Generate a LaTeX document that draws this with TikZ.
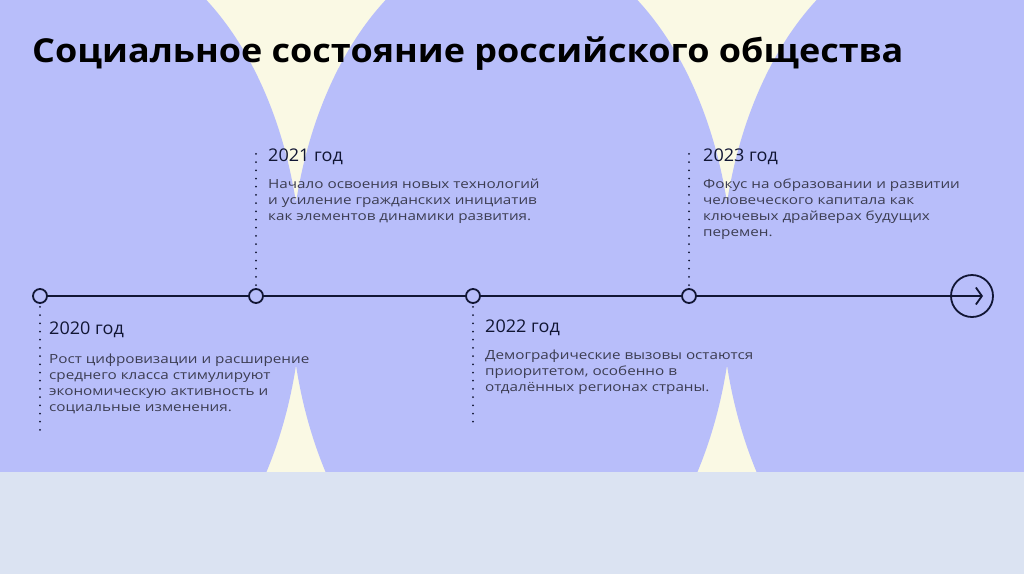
\documentclass[tikz,border=0pt]{standalone}
\usepackage{fontspec}
\setmainfont{Open Sans}
\newfontfamily\bodyfont[FakeStretch=1.21]{Open Sans}
\newfontfamily\yearfont[FakeStretch=1.03]{Open Sans}
\newfontfamily\headfont[FakeStretch=1.09]{Open Sans}
\usepackage{xcolor}
\usetikzlibrary{arrows.meta,positioning,calc}

\definecolor{lavanda}{HTML}{B8BEFA}
\definecolor{crema}{HTML}{FAF9E4}
\definecolor{franja}{HTML}{DBE3F2}
\definecolor{tinta}{HTML}{111634}
\definecolor{gris}{HTML}{3C3D52}

\begin{document}
\begin{tikzpicture}[x=1pt, y=-1pt,
    knot/.style={circle, draw=tinta, line width=1.8pt,
      minimum size=14pt, inner sep=0pt},
    endknot/.style={circle, draw=tinta, line width=1.8pt,
      minimum size=42pt, inner sep=0pt},
    axis/.style={draw=tinta, line width=1.8pt},
    dots/.style={draw=tinta, line width=2pt, line cap=round,
      dash pattern=on 0pt off 8.2pt},
    year/.style={inner sep=0pt, anchor=base west, text=tinta,
      font=\yearfont\fontsize{17.5}{20}\selectfont},
    body/.style={inner sep=0pt, align=left, text=gris,
      font=\bodyfont\fontsize{12.6}{16}\selectfont}
]
\useasboundingbox (0,0) rectangle (1024,574);

% --- Fondo ---
\begin{scope}
  \clip (0,0) rectangle (1024,472);
  \fill[crema] (0,0) rectangle (1024,472);
  \foreach \cx in {80.5,511.5,942.5}
    \fill[lavanda] (\cx,284) ellipse [x radius=221.7, y radius=345];
\end{scope}
\fill[franja] (0,472) rectangle (1024,574);

% --- Titulo ---
\node[inner sep=0pt, anchor=base west, text=black,
      font=\headfont\bfseries\fontsize{33}{40}\selectfont]
      (title) at (32,62) {Социальное состояние российского общества};

% --- Linea de tiempo ---
\node[knot] (p20) at (40,296) {};
\node[knot] (p21) at (256,296) {};
\node[knot] (p22) at (473,296) {};
\node[knot] (p23) at (689,296) {};
\node[endknot] (fin) at (972,296) {};
\coordinate (tip) at (983,296);

\draw[axis] (p20) -- (p21);
\draw[axis] (p21) -- (p22);
\draw[axis] (p22) -- (p23);
\draw[axis, -{Straight Barb[length=6pt, width=17pt, line width=1.8pt]}]
      (p23) -- (tip);

% --- Lineas punteadas ---
\coordinate (d20) at (40,430);
\coordinate (d21) at (256,150);
\coordinate (d22) at (473,428);
\coordinate (d23) at (689,150);
\draw[dots, shorten <=3pt] (p20) -- (d20);
\draw[dots, shorten <=3pt] (p21) -- (d21);
\draw[dots, shorten <=3pt] (p22) -- (d22);
\draw[dots, shorten <=3pt] (p23) -- (d23);

% --- Textos ---
\node[year] (y20) at (49,334) {2020 год};
\node[body, below=16pt of y20.south west, anchor=north west] (b20)
      {Рост цифровизации и расширение\\среднего класса стимулируют\\
       экономическую активность и\\социальные изменения.};

\node[year] (y21) at (268,161) {2021 год};
\node[body, below=14pt of y21.south west, anchor=north west] (b21)
      {Начало освоения новых технологий\\и усиление гражданских инициатив\\
       как элементов динамики развития.};

\node[year] (y22) at (485,332) {2022 год};
\node[body, below=14pt of y22.south west, anchor=north west] (b22)
      {Демографические вызовы остаются\\приоритетом, особенно в\\
       отдалённых регионах страны.};

\node[year] (y23) at (703,161) {2023 год};
\node[body, below=14pt of y23.south west, anchor=north west] (b23)
      {Фокус на образовании и развитии\\человеческого капитала как\\
       ключевых драйверах будущих\\перемен.};
\end{tikzpicture}
\end{document}
